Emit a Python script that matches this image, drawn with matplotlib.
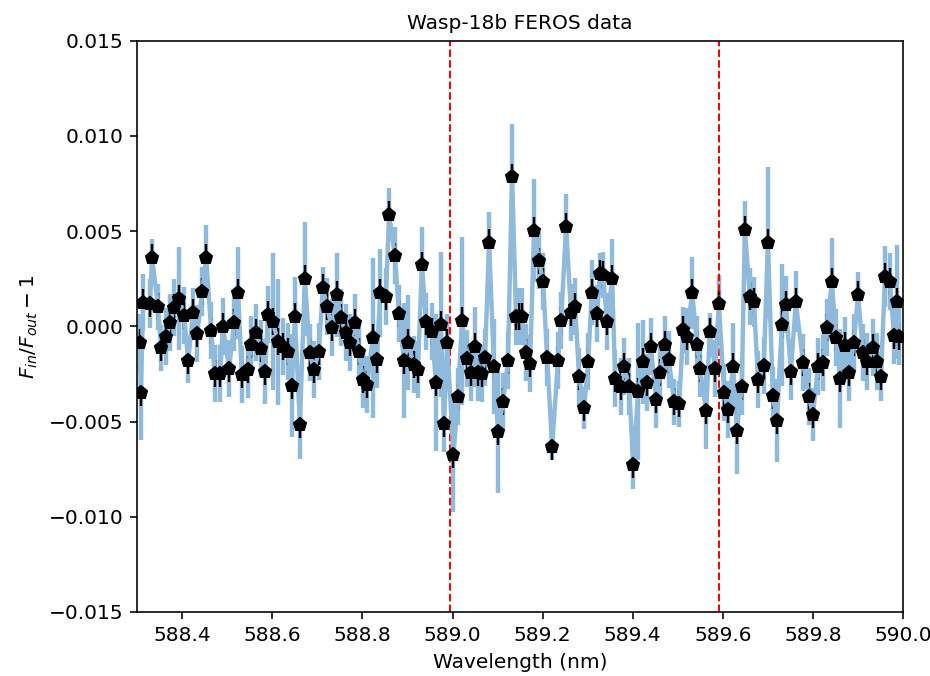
import numpy as np
import matplotlib
matplotlib.use('Agg')
import matplotlib.pyplot as plt

# wavelength (nm) of each binned point
wavelength = [
    588.306, 588.308, 588.313, 588.328, 588.333, 588.346, 588.353, 588.364, 588.373, 588.381,
    588.393, 588.404, 588.413, 588.424, 588.433, 588.444, 588.453, 588.464, 588.472, 588.484,
    588.490, 588.504, 588.515, 588.524, 588.532, 588.546, 588.552, 588.564, 588.575, 588.584,
    588.590, 588.601, 588.612, 588.623, 588.635, 588.643, 588.650, 588.661, 588.672, 588.683,
    588.692, 588.703, 588.712, 588.721, 588.732, 588.743, 588.752, 588.763, 588.772, 588.783,
    588.792, 588.801, 588.810, 588.823, 588.832, 588.839, 588.852, 588.859, 588.872, 588.881,
    588.892, 588.901, 588.914, 588.923, 588.932, 588.941, 588.954, 588.963, 588.974, 588.981,
    588.988, 589.002, 589.012, 589.021, 589.032, 589.041, 589.050, 589.056, 589.065, 589.072,
    589.081, 589.092, 589.101, 589.112, 589.123, 589.132, 589.141, 589.147, 589.154, 589.163,
    589.172, 589.181, 589.192, 589.201, 589.210, 589.221, 589.234, 589.241, 589.252, 589.263,
    589.272, 589.281, 589.292, 589.301, 589.309, 589.321, 589.327, 589.334, 589.343, 589.354,
    589.361, 589.374, 589.381, 589.392, 589.401, 589.412, 589.423, 589.432, 589.440, 589.452,
    589.460, 589.472, 589.480, 589.492, 589.503, 589.512, 589.520, 589.532, 589.543, 589.549,
    589.563, 589.571, 589.583, 589.591, 589.603, 589.611, 589.623, 589.631, 589.642, 589.649,
    589.660, 589.669, 589.678, 589.691, 589.700, 589.711, 589.720, 589.731, 589.740, 589.751,
    589.762, 589.778, 589.791, 589.800, 589.811, 589.822, 589.831, 589.842, 589.851, 589.860,
    589.871, 589.880, 589.891, 589.900, 589.911, 589.920, 589.933, 589.942, 589.951, 589.960,
    589.971, 589.980, 589.987, 589.991,
]

# F_in/F_out - 1, in units of 1e-3
flux_ppt = [
    -0.86, -3.48, 1.24, 1.19, 3.60, 1.03, -1.12, -0.55, 0.19, 0.98,
    1.45, 0.56, -1.80, 0.71, -0.39, 1.82, 3.60, -0.23, -2.49, -2.49,
    -0.02, -2.22, 0.19, 1.76, -2.54, -2.28, -0.97, -0.34, -1.18, -2.38,
    0.61, 0.24, -0.81, -1.07, -1.33, -3.12, 0.50, -5.16, 2.50, -1.39,
    -2.28, -1.33, 2.03, 1.03, -0.07, 1.66, 0.45, -0.34, -0.86, 0.19,
    -1.33, -2.80, -3.06, -0.60, -1.75, 1.76, 1.55, 5.86, 3.70, 0.66,
    -1.80, -0.86, -2.01, -2.28, 3.23, 0.24, -0.28, -2.96, 0.08, -5.11,
    -0.86, -6.74, -3.69, 0.29, -1.70, -2.43, -1.07, -2.43, -2.49, -1.65,
    4.39, -2.12, -5.53, -3.96, -1.80, 7.85, 0.50, 0.50, 0.50, -1.39,
    -1.96, 5.02, 3.44, 2.34, -1.65, -6.32, -1.80, 0.29, 5.23, 0.71,
    1.03, -2.64, -4.27, -1.86, 1.76, 0.66, 2.76, 2.71, 0.24, 2.50,
    -2.75, -3.17, -2.12, -3.17, -7.26, -3.43, -1.86, -2.96, -1.07, -3.85,
    -2.43, -0.97, -1.75, -3.96, -4.06, -0.18, -0.55, 1.76, -0.97, -2.22,
    -4.43, -0.28, -2.22, 1.19, -3.48, -4.38, -2.12, -5.48, -3.17, 5.07,
    1.55, 1.29, -2.80, -2.07, 4.39, -3.64, -4.95, 0.08, 1.13, -2.38,
    1.29, -1.91, -3.69, -4.64, -2.12, -1.91, -0.07, 2.34, -0.60, -2.75,
    -1.02, -2.43, -0.86, 1.66, -1.39, -1.86, -1.12, -1.86, -2.64, 2.60,
    2.34, -0.49, 1.29, -0.55,
]

# light blue error bars, units of 1e-3
blue_err_ppt = [
    1.5, 2.5, 1.5, 1.3, 1.0, 1.2, 1.2, 1.5, 1.5, 1.5,
    2.7, 1.5, 1.2, 1.3, 1.5, 1.3, 1.7, 1.5, 1.5, 1.5,
    1.5, 1.5, 1.5, 2.4, 1.5, 1.5, 1.5, 1.5, 1.5, 1.7,
    1.5, 3.6, 3.3, 1.5, 1.5, 2.7, 2.1, 1.8, 3.0, 1.5,
    1.5, 1.5, 1.1, 1.5, 1.5, 2.2, 1.5, 1.5, 1.5, 1.5,
    1.5, 1.5, 1.5, 4.2, 1.5, 2.3, 1.5, 1.4, 1.5, 1.5,
    3.0, 2.5, 1.5, 1.5, 2.0, 1.5, 1.5, 3.6, 3.8, 1.5,
    1.5, 3.0, 1.5, 4.4, 1.5, 1.5, 2.1, 1.5, 1.5, 1.5,
    1.6, 2.5, 3.2, 1.5, 1.5, 2.8, 1.5, 1.5, 1.5, 1.5,
    1.5, 2.7, 1.5, 1.5, 1.5, 0.7, 1.5, 1.5, 1.7, 1.5,
    1.5, 1.5, 1.1, 1.5, 1.7, 1.5, 1.1, 1.2, 1.5, 2.1,
    1.5, 1.5, 1.5, 1.5, 1.3, 3.6, 2.2, 1.5, 1.5, 1.5,
    1.5, 1.5, 1.5, 1.2, 1.2, 1.2, 1.5, 1.9, 1.5, 1.5,
    2.0, 1.0, 1.5, 1.5, 1.5, 1.5, 2.3, 2.3, 1.5, 1.5,
    1.5, 1.3, 1.5, 1.5, 4.0, 1.5, 2.2, 3.2, 1.5, 1.5,
    1.6, 1.5, 1.5, 1.4, 1.5, 1.5, 1.5, 2.3, 1.5, 2.6,
    1.5, 1.5, 1.5, 1.2, 1.5, 1.5, 1.5, 1.5, 1.3, 1.6,
    1.5, 1.5, 3.0, 1.5,
]

black_err = 0.0007
sodium_lines = [588.995, 589.592]

wl = np.array(wavelength)
flux = np.array(flux_ppt) / 1000.
blue_err = np.array(blue_err_ppt) / 1000.

fig = plt.figure(figsize=(930 / 145, 676 / 145), dpi=145)
ax = fig.add_axes([0.1476, 0.0947, 0.8234, 0.8451])

# light blue trace with its error spikes (flat colour so overlaps don't darken)
ax.errorbar(wl, flux, yerr=blue_err, color='#8fbadb', linewidth=2.2)
# black pentagons with small error bars
ax.errorbar(wl, flux, yerr=black_err, fmt='p', color='k', markersize=6.5, elinewidth=1.2)
for line in sodium_lines:
    ax.axvline(line, color='r', linestyle='--', linewidth=1)

ax.set_xlim(588.3, 590.0)
ax.set_ylim(-0.015, 0.015)
ax.set_yticks(np.arange(-0.015, 0.0151, 0.005))
ax.set_xlabel('Wavelength (nm)')
ax.set_ylabel(r'$F_{in}/F_{out} - 1$')
ax.set_title('Wasp-18b FEROS data', fontsize=10)

fig.savefig('out.png', dpi=145)
